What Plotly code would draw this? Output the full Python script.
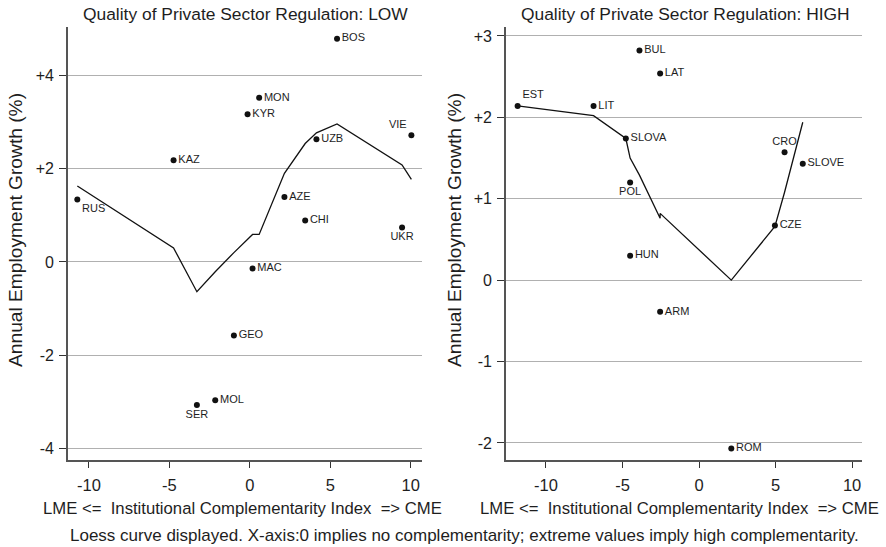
import plotly.graph_objects as go

# ---------------- data ----------------
countries_low = ["RUS", "KAZ", "SER", "MOL", "GEO", "KYR", "MAC", "MON", "AZE", "CHI", "UZB", "BOS", "UKR", "VIE"]
x_low = [-10.72, -4.74, -3.29, -2.15, -0.99, -0.14, 0.17, 0.58, 2.15, 3.44, 4.14, 5.42, 9.46, 10.04]
y_low = [1.34, 2.18, -3.07, -2.97, -1.58, 3.17, -0.14, 3.52, 1.39, 0.89, 2.63, 4.79, 0.74, 2.72]
loess_low = [1.63, 0.30, -0.64, -0.21, 0.20, 0.50, 0.59, 0.59, 1.90, 2.54, 2.77, 2.96, 2.08, 1.77]
pos_low = ["bottom right", "middle right", "bottom center", "middle right", "middle right", "middle right",
           "middle right", "middle right", "middle right", "middle right", "middle right", "middle right",
           "bottom center", "top left"]

countries_high = ["EST", "LIT", "SLOVA", "POL", "HUN", "BUL", "LAT", "ARM", "ROM", "CZE", "CRO", "SLOVE"]
x_high = [-11.85, -6.89, -4.78, -4.50, -4.50, -3.89, -2.54, -2.54, 2.11, 4.96, 5.59, 6.78]
y_high = [2.14, 2.14, 1.74, 1.20, 0.30, 2.82, 2.54, -0.39, -2.07, 0.67, 1.57, 1.43]
loess_high = [2.14, 2.02, 1.74, 1.52, 1.50, 1.29, 0.76, 0.82, 0.00, 0.66, 1.08, 1.94]
pos_high = ["top right", "middle right", "middle right", "bottom center", "middle right", "middle right",
            "middle right", "middle right", "middle right", "middle right", "top center", "middle right"]

x_tickvals = [-10, -5, 0, 5, 10]
x_ticktext = ["-10", "-5", "0", "5", "10"]
y_low_tickvals = [4, 2, 0, -2, -4]
y_low_ticktext = ["+4", "+2", "0", "-2", "-4"]
y_high_tickvals = [3, 2, 1, 0, -1, -2]
y_high_ticktext = ["+3", "+2", "+1", "0", "-1", "-2"]

title_low = "Quality of Private Sector Regulation: LOW"
title_high = "Quality of Private Sector Regulation: HIGH"
x_title = "LME <=\u00a0 Institutional Complementarity Index\u00a0 => CME"
y_title = "Annual Employment Growth (%)"
footer = "Loess curve displayed. X-axis:0 implies no complementarity; extreme values imply high complementarity."

# ---------------- styling ----------------
FONT = "Liberation Sans, Arial, Helvetica, sans-serif"
TXT = "#1e1e1e"
AXC = "#555555"
GRID = "#b0b0b0"
W, H = 886, 547

fig = go.Figure()

def add_panel(xs, ys, fit, labels, pos, xa, ya):
    fig.add_trace(go.Scatter(x=xs, y=fit, mode="lines", line=dict(color="#111111", width=1.3),
                             xaxis=xa, yaxis=ya, showlegend=False, hoverinfo="skip"))
    fig.add_trace(go.Scatter(x=xs, y=ys, mode="markers+text", text=labels, textposition=pos,
                             marker=dict(color="#111111", size=6),
                             textfont=dict(family=FONT, size=11, color=TXT),
                             xaxis=xa, yaxis=ya, showlegend=False))

add_panel(x_low, y_low, loess_low, countries_low, pos_low, "x", "y")
add_panel(x_high, y_high, loess_high, countries_high, pos_high, "x2", "y2")

# pixel positions of plot areas
L1, R1 = 68, 422
L2, R2 = 506, 862
TOP, BOT = 27, 460

def px(v):
    return v / W

def py(v):
    return 1 - v / H

xcommon = dict(showline=True, linecolor=AXC, linewidth=1.8, ticks="outside", ticklen=6, tickwidth=1.3,
               tickcolor="#333333", showgrid=False, zeroline=False, tickvals=x_tickvals, ticktext=x_ticktext,
               tickfont=dict(family=FONT, size=16.5, color=TXT), ticklabelstandoff=3, mirror=False)
ycommon = dict(showline=True, linecolor=AXC, linewidth=1.8, ticks="outside", ticklen=7, tickwidth=1.3,
               tickcolor="#333333", showgrid=True, gridcolor=GRID, gridwidth=1, zeroline=False,
               tickfont=dict(family=FONT, size=16, color=TXT), ticklabelstandoff=2)

fig.update_layout(
    width=W, height=H, margin=dict(l=0, r=0, t=0, b=0),
    paper_bgcolor="white", plot_bgcolor="white",
    font=dict(family=FONT, color=TXT),
    xaxis=dict(domain=[px(L1), px(R1)], range=[-11.3, 10.7], anchor="y", **xcommon),
    yaxis=dict(domain=[py(BOT), py(TOP)], range=[-4.25, 5.04], anchor="x",
               tickvals=y_low_tickvals, ticktext=y_low_ticktext, **ycommon),
    xaxis2=dict(domain=[px(L2), px(R2)], range=[-12.61, 10.65], anchor="y2", **xcommon),
    yaxis2=dict(domain=[py(BOT), py(TOP)], range=[-2.21, 3.11], anchor="x2",
                tickvals=y_high_tickvals, ticktext=y_high_ticktext, **ycommon),
)

ann = []
def add_text(text, x, y, size, angle=0):
    ann.append(dict(text=text, x=px(x), y=py(y), xref="paper", yref="paper", showarrow=False,
                    xanchor="center", yanchor="middle", textangle=angle,
                    font=dict(family=FONT, size=size, color=TXT)))

add_text(title_low, 245, 14, 17.4)
add_text(title_high, 685, 14, 17.4)
add_text(x_title, 242, 508, 16.7)
add_text(x_title, 679, 508, 16.7)
add_text(y_title, 16, 230, 19.2, -90)
add_text(y_title, 455, 230, 19.2, -90)
add_text(footer, 465, 535, 17)
fig.update_layout(annotations=ann)

fig.write_html("out.html", config={"displayModeBar": False},
               post_script="document.body.style.margin='0';document.body.style.overflow='hidden';")
